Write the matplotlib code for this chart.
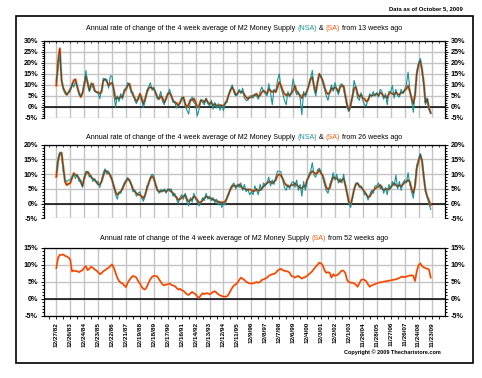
import numpy as np
import matplotlib
matplotlib.use("Agg")
import matplotlib.pyplot as plt
from matplotlib.ticker import MultipleLocator
from matplotlib.patches import Rectangle

# ---------------- data (8 readings per year, 1/8-year steps from 12/27/82) ----------------
date_labels = ["12/27/82", "12/26/83", "12/24/84", "12/23/85", "12/22/86", "12/21/87", "12/19/88",
               "12/18/89", "12/17/90", "12/16/91", "12/14/92", "12/13/93", "12/12/94", "12/11/95",
               "12/9/96", "12/8/97", "12/7/98", "12/6/99", "12/4/00", "12/3/01", "12/2/02", "12/1/03",
               "11/29/04", "11/28/05", "11/27/06", "11/26/07", "11/24/08", "11/23/09"]

sa_13 = [9.7, 21, 26.5, 12, 8.5, 7, 5.5, 6.5,
         8, 9.7, 12, 12.5, 9, 6.5, 4.5, 6,
         9.7, 14, 11, 7.5, 10, 10.5, 7.5, 6.7,
         6.7, 6, 7, 12, 12.7, 11.5, 9.7, 10.5,
         11, 8, 3.5, 4.4, 3.6, 5, 4.4, 7,
         8, 9.7, 10.5, 7.4, 5.5, 4, 2.5, 3.5,
         6, 4, 1.4, 3.6, 6.5, 8.5, 9, 8.5,
         8.2, 6.5, 4.5, 3.6, 5, 4, 2.1, 3.6,
         6, 6.5, 5, 3, 2, 1.8, 0.6, 2,
         3.6, 4.4, 1.5, -0.2, 1.2, 3.2, 3, 3.8,
         2.1, -0.2, 0.6, 2.9, 2.9, 2.1, 3.6, 2.1,
         1.4, 2.1, 0.6, 1.4, 0.6, 0.3, 0.9, 0.4,
         0.6, 1.6, 3, 5.5, 7.5, 9, 7.5, 5.5,
         6, 7.2, 6.7, 7, 5.5, 4.5, 3.6, 4.4,
         4.4, 5.2, 5.2, 6, 4.6, 5.2, 6.7, 7.4,
         6.7, 6, 8.2, 7.4, 6.7, 7.4, 6.7, 9,
         11.2, 9.7, 7.4, 6, 5.2, 6, 5.2, 6.2,
         7.4, 9.7, 7, 6, 5.2, 4, 6, 5.5,
         7.4, 9.7, 12.7, 13.5, 9.5, 6.5, 11, 15,
         13.5, 12, 9, 6.7, 5.8, 6.5, 8.5, 8,
         9, 8.2, 6.7, 9, 9.7, 9.5, 5, 1,
         -1.7, 1, 4.5, 8.5, 9, 6, 4.5, 5.5,
         4, 3.6, 2.5, 3, 5, 5.2, 5.5, 5.4,
         6, 5.2, 6.5, 6, 4.6, 5, 4, 6,
         6.5, 6, 5.5, 6.7, 5.8, 5.5, 6.5, 6.5,
         7.4, 8.2, 9.7, 7, 4, 1.4, 5.5, 15,
         19, 21, 17, 11, 2, 3.6, -0.5, -2.7]

nsa_13 = [12, 17, 24, 13, 8, 6, 5.5, 7,
          7, 10.5, 9, 11.5, 10, 5.5, 5, 6.5,
          11, 16.5, 10, 7, 11, 9, 7, 7,
          6, 3.8, 8, 13, 12, 12.5, 8.5, 14,
          14, 6, 0, 5, 2.5, 6, 3.5, 8,
          8.5, 11, 10, 6.5, 6.5, 3, 1.5, 4.5,
          5, 3, -0.2, 2.5, 7.5, 9, 11, 7.5,
          9, 6, 3.5, 4.5, 7, 2.5, 1, 4,
          5.5, 8, 5.5, 2, 2.5, -0.5, 0.5, 1.5,
          4.5, 4, 0.5, -1.5, -3.2, 3, 4.5, 2,
          1, -4, -1, 3.5, 2, 1, 4, 1.5,
          0.5, 3, -1, 2, -0.5, 1.5, -1.5, 1,
          -1.7, 2, 2, 6, 8, 10, 6.5, 5,
          5.5, 8, 6, 8.5, 4, 3, 3, 5,
          5, 4, 6, 5, 3.5, 7, 9, 7,
          6, 5, 10.5, 6.5, 1, 8, 7, 12,
          15, 9, 6, 3, 1, 7, 4.5, 7,
          12.7, 8, 5.5, 7, 4, -3.5, 7, 4.5,
          7, 10, 13, 16.5, 8, 5, 12, 14.5,
          14.5, 11, 8, 5, 3, 7, 10, 7,
          11, 8, 5.5, 10, 10.5, 8, 4, 0,
          -2, 0, 5, 12, 9, 4, 3, 6.5,
          3, 1, 0.5, 3.5, 6, 4.5, 7, 5,
          6.5, 4.5, 8, 7, 3.5, 6, 1, 7,
          7, 9.7, 4, 8, 5, 4.5, 8, 6,
          8, 10, 15.8, 8, 3, -2.4, 6, 16,
          20, 22, 16, 10, 1, 4, -1, -3]

sa_26 = [9.1, 14.5, 17, 17.3, 12.5, 7.5, 6.3, 6.7,
         7, 8.6, 10.3, 9.7, 9.5, 8.6, 7.4, 6,
         8.5, 10.3, 10.8, 10, 9, 8.4, 8, 7.4,
         6.5, 6.5, 7.5, 9.5, 11.2, 11, 10.3, 9.7,
         8, 6, 4, 3, 3.5, 4.1, 5, 6.5,
         7.5, 8.5, 8, 6.5, 5, 4.2, 3.5, 3,
         3, 2.4, 1.8, 3, 5, 7, 8.5, 9.3,
         8.5, 6.5, 4.6, 4.1, 4.1, 4.3, 4.6, 4.1,
         4.6, 4.8, 4.1, 3.5, 2.7, 2.2, 1.2, 1.5,
         2, 2.5, 2.9, 1.5, 0.7, 1.2, 1.5, 2.5,
         2, 1.2, 0.3, 0.4, 1.2, 1.8, 2.4, 2.2,
         1.8, 1.8, 1.3, 1.2, 0.8, 0.7, 0.2, 0.5,
         0.3, 0.8, 1.8, 3.5, 4.8, 5.8, 6.3, 5.8,
         6, 6.5, 5.8, 5.2, 5, 4.8, 4.6, 4.8,
         4.6, 4.1, 4.4, 4.9, 4.4, 4.6, 5.2, 5.8,
         6.5, 6.9, 7.4, 7.4, 6.9, 7.4, 8, 9.5,
         10, 9.5, 8.5, 7, 6.3, 5.8, 5.8, 6.3,
         6.3, 6.9, 6.3, 5.8, 5.4, 5.2, 6, 5.8,
         8, 9.1, 10.3, 11, 10.5, 10, 10.5, 11.4,
         10.3, 9.5, 7.5, 5.5, 4.8, 5.2, 7.5, 9,
         8.6, 8.6, 8, 7.4, 8, 8.5, 6.3, 3.5,
         0.5, -0.3, 2, 4.8, 6.5, 6.9, 6, 5.5,
         4.8, 4, 3, 2.2, 2.4, 3.5, 4.4, 5,
         5.5, 5.8, 6.3, 5.2, 4.6, 4.8, 5, 4.8,
         5.5, 6.3, 6.9, 6.3, 5.8, 6.3, 5.8, 6.5,
         7.2, 7.4, 8, 7.4, 5, 3.5, 6, 12,
         14.5, 16.5, 14.5, 9, 4.5, 2.4, 1, -0.5]

nsa_26 = [11, 15.5, 17.5, 16.5, 11, 8, 7.5, 8,
          8, 9, 10, 8.5, 10, 7.5, 8, 5.5,
          9, 11, 10.5, 9, 9.5, 7.5, 8.5, 7,
          7.5, 5.5, 8, 10.5, 11.8, 10, 11, 9,
          8.5, 5.5, 3, 1.5, 4, 3.5, 5.5, 7,
          8, 8.8, 7.5, 7, 4, 4.5, 2.5, 3.5,
          4, 2, 0.8, 2.5, 6, 6.5, 9, 10,
          9.5, 6, 5, 3.5, 4.8, 4, 5, 3.5,
          5, 4.2, 5, 2.5, 3.5, 1.5, 0, 2,
          3, 1.5, 3.5, 0.5, -0.8, 2, 0.5, 3.5,
          1.5, 0.5, -0.8, 0.5, 2, 1, 3.5, 1.5,
          2.5, 1, 2, 0.3, 1.5, -0.5, 0.8, -1.3,
          0, -0.5, 2.5, 3, 5.5, 6.3, 7, 5,
          6.5, 5.5, 7, 4.5, 6.5, 4, 5, 3,
          4, 3, 6, 4.5, 3, 6.5, 4.5, 7,
          6, 7, 9, 6, 8, 6.5, 9, 11,
          11, 10.8, 8, 5.5, 4.5, 6.5, 5, 7,
          7.5, 5.5, 8, 4.5, 6.5, 2.5, 7.5, 4.5,
          7.5, 10, 11, 13.9, 9.5, 9, 11.5, 12,
          11, 9, 6.5, 4.5, 3.5, 6.5, 8, 10.5,
          8, 10, 7, 8.5, 7, 10, 6, 3,
          0, -1.3, 1.5, 5, 7, 7, 5.5, 6,
          5, 3, 3.5, 1.2, 3, 4.5, 3.5, 6,
          6, 7, 5, 6, 3.5, 5.5, 3, 6.5,
          5, 7.5, 6, 9.7, 5, 7.5, 4.5, 7,
          8, 7, 10.5, 6.5, 4, 1.8, 7, 13,
          15, 17, 15, 10, 4, 2, 0, -2]

sa_52 = [9, 12, 12.9, 12.9, 13, 12.6, 12.4, 12.1,
         11.5, 8, 8.3, 8.1, 8.1, 7.8, 8.1, 8.4,
         9.1, 9.6, 8.4, 8.8, 9.4, 9.1, 8.6, 8.3,
         7.8, 7.2, 7.5, 8.1, 8.4, 8.8, 9.1, 9.6,
         10.1, 9.1, 7.6, 6.2, 5.2, 4.7, 4.5, 3.9,
         3.4, 4.7, 5.5, 6.2, 6.7, 6.5, 6.2, 5.2,
         4.5, 3.5, 2.9, 2.7, 3.5, 4.7, 5.7, 6.4,
         6.7, 6.7, 6.5, 5.7, 4.9, 4.2, 3.9, 4.2,
         4.2, 4.5, 4.1, 3.9, 3.7, 3.2, 2.7, 2.9,
         2.5, 2.3, 1.8, 1.3, 1.1, 1.6, 2, 1.6,
         1.3, 0.6, 0.3, 1, 1.6, 1.3, 1.6, 1.6,
         1.3, 1.6, 2, 2.2, 1.8, 1.3, 1, 0.8,
         0.6, 0.6, 0.7, 1.3, 2.3, 3.2, 3.9, 4.2,
         4.7, 5.5, 6.2, 5.9, 5.5, 5, 4.7, 4.5,
         4.5, 4.5, 4.7, 4.9, 4.7, 4.9, 5.5, 5.7,
         5.9, 6.2, 6.7, 7, 7.2, 7.3, 7.6, 8.2,
         8.6, 8.8, 8.4, 8.2, 8.1, 8, 7.6, 6.7,
         6.5, 6.2, 6.5, 6.7, 6.3, 5.9, 6.2, 6.4,
         6.7, 7.2, 7.6, 8.1, 8.8, 9.4, 10, 10.6,
         10.4, 9.8, 8.4, 7.6, 7.8, 7.6, 6.2, 7.2,
         6.7, 6.9, 7.2, 7.8, 8.3, 8.2, 7.5, 5.5,
         4.9, 4.7, 4.7, 4.5, 4.1, 3.5, 4.5, 5.5,
         5.7, 5.5, 5.1, 4.2, 3.5, 3.9, 4.1, 4.3,
         4.5, 4.7, 4.8, 4.9, 5, 5.1, 5.2, 5.3,
         5.4, 5.5, 5.6, 5.7, 5.9, 6.1, 6.4, 6.5,
         6.3, 6.5, 6.7, 6.8, 6.9, 6.7, 5.2, 8.1,
         9.8, 10.4, 9.6, 9.2, 9, 8.8, 8.6, 6.2]

readings_per_year = 8

# ---------------- style ----------------
plt.rcParams['font.family'] = ['Liberation Sans', 'DejaVu Sans']
W, H = 482, 378
fig = plt.figure(figsize=(W / 100, H / 100), dpi=100)
fig.patch.set_facecolor('white')

TEAL = '#1a9494'
ORANGE = '#ff5a0a'
GRID = '#c4c4c4'

t = np.arange(len(sa_13)) / readings_per_year


def rect(left, top, right, bottom):
    return [left / W, 1 - bottom / H, (right - left) / W, (bottom - top) / H]


def setup(ax, lo, hi, bottom_spine):
    ax.set_xlim(-0.92, 27.9)
    ax.set_ylim(lo, hi)
    ax.set_xticks(range(len(date_labels)))
    ax.xaxis.set_minor_locator(MultipleLocator(0.5))
    ax.set_yticks(range(lo, hi + 1, 5))
    ax.set_yticklabels([f"{v}%" for v in range(lo, hi + 1, 5)])
    ax.yaxis.set_minor_locator(MultipleLocator(1))
    ax.grid(True, which='major', color=GRID, lw=1.0)
    ax.set_axisbelow(True)
    ax.tick_params(axis='y', which='both', left=True, right=True, labelleft=True,
                   labelright=True, direction='out', labelsize=5.2, pad=1.5,
                   width=0.7)
    ax.tick_params(axis='y', which='major', length=2.5)
    ax.tick_params(axis='y', which='minor', length=1.5)
    for s in ['left', 'right', 'top']:
        ax.spines[s].set_color('black')
        ax.spines[s].set_linewidth(0.9)
    ax.spines['bottom'].set_visible(bottom_spine)
    ax.spines['bottom'].set_linewidth(0.9)
    ax.axhline(0, color='black', lw=1.1, zorder=3)
    for lab in ax.get_yticklabels():
        lab.set_fontweight('bold')


def colored_title(y_px, parts, fs=5.3):
    renderer = fig.canvas.get_renderer()
    full = "".join(p for p, _ in parts)
    probe = fig.text(0, 0, full + "|", fontsize=fs)
    bar = fig.text(0, 0, "|", fontsize=fs)
    bw = bar.get_window_extent(renderer).width
    total = probe.get_window_extent(renderer).width - bw
    x0 = 244 - total / 2
    prefix = ""
    for p, c in parts:
        probe.set_text(prefix + "|")
        off = probe.get_window_extent(renderer).width - bw if prefix else 0
        fig.text((x0 + off) / W, 1 - y_px / H, p, fontsize=fs, color=c, ha='left', va='center')
        prefix += p
    probe.remove()
    bar.remove()


# Panel 1
ax1 = fig.add_axes(rect(43.5, 40.7, 445, 118))
setup(ax1, -5, 30, False)
ax1.tick_params(axis='x', which='both', bottom=False, top=True, labelbottom=False,
                direction='in', length=1.5, width=0.6)
ax1.plot(t, sa_13, color=ORANGE, lw=1.6, zorder=4)
ax1.plot(t, nsa_13, color=TEAL, lw=0.8, zorder=5)
ax1.plot(t, sa_13, color='#202020', lw=0.3, zorder=6)

# Panel 2
ax2 = fig.add_axes(rect(43.5, 144.7, 445, 218.3))
setup(ax2, -5, 20, False)
ax2.tick_params(axis='x', which='both', bottom=False, top=True, labelbottom=False,
                direction='in', length=1.5, width=0.6)
ax2.plot(t, sa_26, color=ORANGE, lw=1.6, zorder=4)
ax2.plot(t, nsa_26, color=TEAL, lw=0.8, zorder=5)
ax2.plot(t, sa_26, color='#202020', lw=0.3, zorder=6)

# Panel 3
ax3 = fig.add_axes(rect(43.5, 247.7, 445, 315.7))
setup(ax3, -5, 15, True)
ax3.tick_params(axis='x', which='both', bottom=True, top=False, direction='out',
                length=2, width=0.6, labelsize=4.6, pad=2.5)
ax3.set_xticklabels(date_labels, rotation=90, va='top', ha='center')
for lab in ax3.get_xticklabels():
    lab.set_fontweight('bold')
ax3.plot(t, sa_52, color='#ff7a2a', lw=1.4, zorder=4)
ax3.plot(t, sa_52, color='#f03000', lw=0.6, zorder=5)

# Titles
title_fs = 5.15
colored_title(28.3, [("Annual rate of change of the 4 week average of M2 Money Supply ", 'black'),
                     ("(NSA)", TEAL), (" & ", 'black'), ("(SA)", ORANGE),
                     (" from 13 weeks ago", 'black')], title_fs)
colored_title(137.3, [("Annual rate of change of the 4 week average of M2 Money Supply ", 'black'),
                      ("(NSA)", TEAL), (" & ", 'black'), ("(SA)", ORANGE),
                      (" from 26 weeks ago", 'black')], title_fs)
colored_title(238.3, [("Annual rate of change of the 4 week average of M2 Money Supply ", 'black'),
                      ("(SA)", ORANGE), (" from 52 weeks ago", 'black')], title_fs)

fig.text(463 / W, 1 - 9 / H, "Data as of October 5, 2009", fontsize=4.2, fontweight='bold',
         ha='right', va='center')
fig.text(441 / W, 1 - 352.5 / H, "Copyright \u00a9 2009 Thechartstore.com", fontsize=4.0,
         fontweight='bold', ha='right', va='center')

# Outer border
fig.patches.append(Rectangle((15.7 / W, 1 - 362.5 / H), (473.3 - 15.7) / W, (362.5 - 15.7) / H,
                             transform=fig.transFigure, fill=False, edgecolor='black', lw=1.2))

fig.savefig("out.png", dpi=100)
